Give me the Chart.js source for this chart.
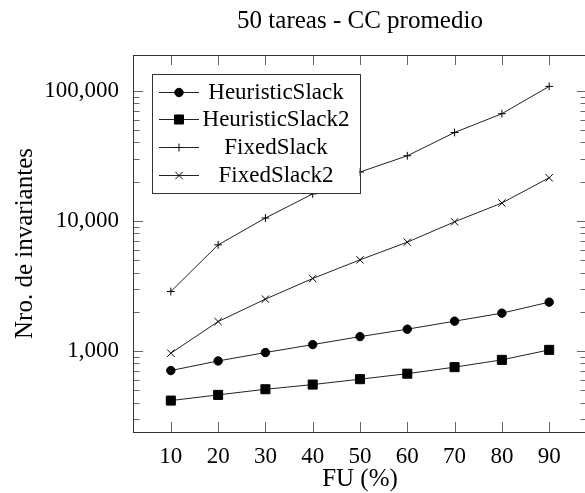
<!DOCTYPE html>
<html>
<head>
<meta charset="utf-8">
<title>50 tareas - CC promedio</title>
<script src="https://cdn.jsdelivr.net/npm/chart.js@4.4.1/dist/chart.umd.min.js"></script>
<style>
  html, body { margin: 0; padding: 0; background: #fff; overflow: hidden; }
  canvas { display: block; }
</style>
</head>
<body>
<canvas id="c" width="600" height="493"></canvas>
<script>
// FU levels (%) on the horizontal axis
const fuLevels = [10, 20, 30, 40, 50, 60, 70, 80, 90];

// Average number of invariants per method
const heuristicSlack  = [706, 837, 971, 1118, 1287, 1468, 1692, 1950, 2370];
const heuristicSlack2 = [415, 459, 507, 551, 606, 668, 750, 853, 1018];
const fixedSlack      = [2860, 6530, 10500, 16100, 23700, 31600, 47700, 66500, 107900];
const fixedSlack2     = [960, 1680, 2500, 3600, 5010, 6850, 9820, 13700, 21400];

const seriesNames = ['HeuristicSlack', 'HeuristicSlack2', 'FixedSlack', 'FixedSlack2'];
const yTickValues = [1000, 10000, 100000];

const chartTitle = '50 tareas - CC promedio';
const xTitle = 'FU (%)';
const yTitle = 'Nro. de invariantes';

const SERIF = '"Liberation Serif", "Times New Roman", serif';
const seriesValues = [heuristicSlack, heuristicSlack2, fixedSlack, fixedSlack2];
const markers = [
  { pointStyle: 'circle',   radius: 4.2 },
  { pointStyle: 'rect',     radius: 6.4 },
  { pointStyle: 'cross',    radius: 3.9 },
  { pointStyle: 'crossRot', radius: 5.2 }
];

const datasets = seriesNames.map((name, i) => ({
  label: name,
  data: fuLevels.map((x, j) => ({ x: x, y: seriesValues[i][j] })),
  borderColor: '#222',
  borderWidth: 1,
  pointStyle: markers[i].pointStyle,
  pointRadius: markers[i].radius,
  pointHoverRadius: markers[i].radius,
  pointBackgroundColor: '#000',
  pointBorderColor: '#000',
  pointBorderWidth: 1,
  tension: 0,
  fill: false
}));

function marker(ctx, style, radius, x, y) {
  ctx.save();
  ctx.fillStyle = '#000';
  ctx.strokeStyle = '#000';
  ctx.lineWidth = 1;
  Chart.helpers.drawPoint(ctx, { pointStyle: style, radius: radius, rotation: 0, borderWidth: 1 }, x, y);
  ctx.restore();
}

// Box frame with inward major/minor tick marks on all four sides
const framePlugin = {
  id: 'frame',
  beforeDatasetsDraw(chart) {
    const { ctx, chartArea: a, scales } = chart;
    const xs = scales.x, ys = scales.y;
    ctx.save();
    ctx.strokeStyle = '#666';
    ctx.lineWidth = 1;
    ctx.beginPath();
    fuLevels.forEach(v => {
      const px = Math.round(xs.getPixelForValue(v)) + 0.5;
      ctx.moveTo(px, a.bottom); ctx.lineTo(px, a.bottom - 10);
      ctx.moveTo(px, a.top); ctx.lineTo(px, a.top + 10);
    });
    const lo = ys.min, hi = ys.max;
    for (let dec = 100; dec <= 1e6; dec *= 10) {
      for (let k = 1; k <= 9; k++) {
        const v = k * dec;
        if (v < lo || v > hi) continue;
        const len = k === 1 ? 10 : 6.5;
        const py = Math.round(ys.getPixelForValue(v)) + 0.5;
        ctx.moveTo(a.left, py); ctx.lineTo(a.left + len, py);
        ctx.moveTo(a.right, py); ctx.lineTo(a.right - len, py);
      }
    }
    ctx.stroke();
    ctx.strokeStyle = '#333';
    ctx.strokeRect(Math.round(a.left) + 0.5, Math.round(a.top) + 0.5,
                   Math.round(a.right - a.left), Math.round(a.bottom - a.top));
    ctx.restore();
  },
  afterDatasetsDraw(chart) {
    const { ctx, chartArea: a } = chart;
    // legend box
    const left = a.left + 18.7, top = a.top + 19, w = 207.6, h = 119.3;
    ctx.save();
    ctx.fillStyle = '#fff';
    ctx.fillRect(left, top, w, h);
    ctx.strokeStyle = '#333';
    ctx.lineWidth = 1;
    ctx.strokeRect(Math.round(left) + 0.5, Math.round(top) + 0.5, Math.round(w), Math.round(h));
    ctx.font = '23px ' + SERIF;
    ctx.textAlign = 'center';
    ctx.textBaseline = 'middle';
    chart.data.datasets.forEach((ds, i) => {
      const y = top + 17.7 + i * 27.7;
      ctx.strokeStyle = '#222';
      ctx.beginPath();
      ctx.moveTo(left + 7.3, Math.round(y) + 0.5);
      ctx.lineTo(left + 47.3, Math.round(y) + 0.5);
      ctx.stroke();
      marker(ctx, ds.pointStyle, ds.pointRadius, left + 27.3, Math.round(y) + 0.5);
      ctx.fillStyle = '#000';
      ctx.fillText(ds.label, left + 124.3, y + 1);
    });
    ctx.restore();
  },
  afterDraw(chart) {
    const { ctx, chartArea: a } = chart;
    ctx.save();
    ctx.font = '25px ' + SERIF;
    ctx.fillStyle = '#000';
    ctx.textAlign = 'center';
    ctx.textBaseline = 'alphabetic';
    ctx.fillText(chartTitle, (a.left + a.right) / 2, 28);
    ctx.restore();
  }
};

new Chart(document.getElementById('c'), {
  type: 'line',
  data: { datasets: datasets },
  options: {
    responsive: false,
    animation: false,
    events: [],
    layout: { padding: { top: 55, right: 13, left: 0, bottom: 0 } },
    plugins: {
      legend: { display: false },
      title: { display: false },
      tooltip: { enabled: false }
    },
    scales: {
      x: {
        type: 'linear',
        min: 2,
        max: 98,
        grid: { display: false },
        border: { display: false },
        afterBuildTicks: s => { s.ticks = fuLevels.map(v => ({ value: v })); },
        afterFit: s => { s.height = 61; },
        ticks: {
          autoSkip: false,
          maxRotation: 0,
          padding: 3,
          color: '#000',
          font: { family: SERIF, size: 23 },
          callback: v => String(v)
        },
        title: {
          display: true,
          text: xTitle,
          color: '#000',
          font: { family: SERIF, size: 25 },
          padding: { top: 0, bottom: -1 }
        }
      },
      y: {
        type: 'logarithmic',
        min: 238,
        max: 188000,
        grid: { display: false },
        border: { display: false },
        afterBuildTicks: s => { s.ticks = yTickValues.map(v => ({ value: v, major: true })); },
        afterFit: s => { s.width = 133; },
        ticks: {
          padding: 6,
          color: '#000',
          font: { family: SERIF, size: 23 },
          callback: v => Number(v).toLocaleString('en-US')
        },
        title: {
          display: true,
          text: yTitle,
          color: '#000',
          font: { family: SERIF, size: 25 },
          padding: { top: 10, bottom: 0 }
        }
      }
    }
  },
  plugins: [framePlugin]
});
</script>
</body>
</html>
